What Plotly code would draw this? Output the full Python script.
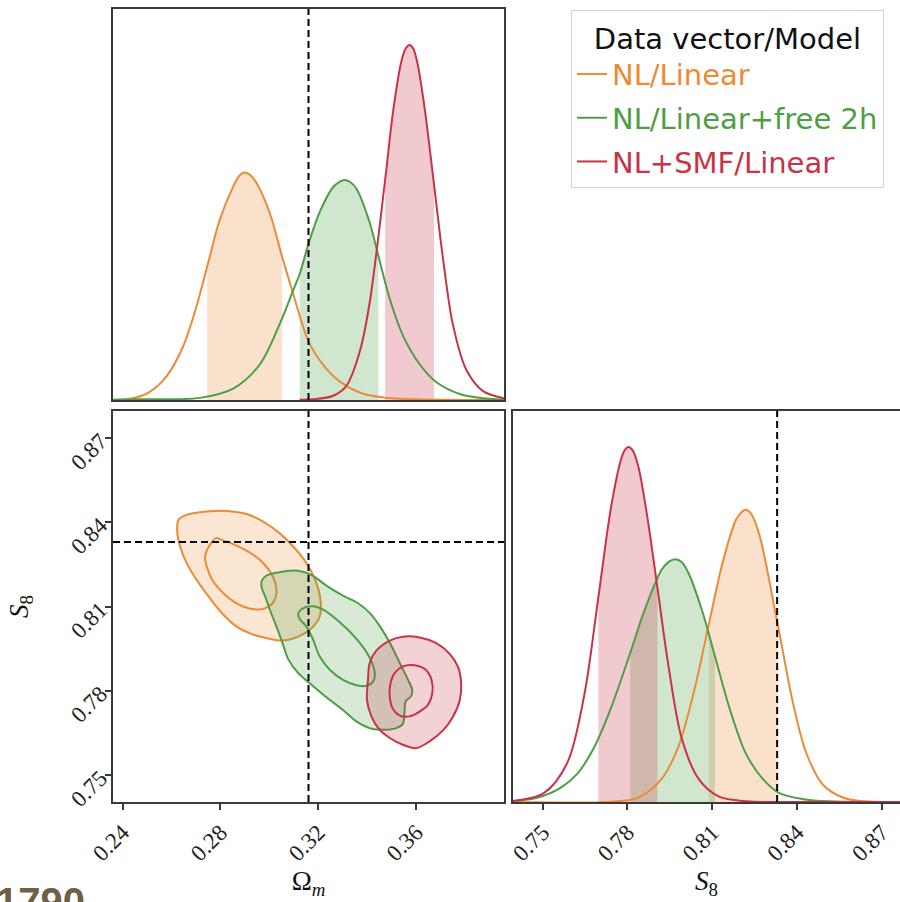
import plotly.graph_objects as go

W, H = 900, 902

# ---------------- data ----------------
SERIES = ["NL/Linear", "NL/Linear+free 2h", "NL+SMF/Linear"]
COLORS = ["#EC8B36", "#4E9E45", "#C83345"]
RGB = [(236, 139, 54), (78, 158, 69), (200, 51, 69)]

OM_TRUE = 0.316
S8_TRUE = 0.833

OM_TICKS = [0.24, 0.28, 0.32, 0.36]
OM_TICKTEXT = ["0.24", "0.28", "0.32", "0.36"]
S8_TICKS = [0.75, 0.78, 0.81, 0.84, 0.87]
S8_TICKTEXT = ["0.75", "0.78", "0.81", "0.84", "0.87"]

# 1D marginal of Omega_m (relative density)
om_orange_x = [0.2361, 0.2443, 0.2511, 0.2579, 0.2647, 0.2702, 0.2746, 0.2797, 0.2852, 0.2875, 0.2896,
               0.2920, 0.2947, 0.3002, 0.3052, 0.3097, 0.3160, 0.3220, 0.3288, 0.3369, 0.3465, 0.3601,
               0.3959]
om_orange_p = [0.000, 0.005, 0.023, 0.066, 0.150, 0.263, 0.376, 0.507, 0.601, 0.630, 0.641,
               0.635, 0.612, 0.526, 0.404, 0.300, 0.165, 0.099, 0.052, 0.021, 0.007, 0.002,
               0.000]
om_green_x = [0.2361, 0.2471, 0.2716, 0.2852, 0.2961, 0.3043, 0.3098, 0.3124, 0.3160, 0.3206, 0.3261,
              0.3285, 0.3307, 0.3330, 0.3356, 0.3410, 0.3446, 0.3492, 0.3547, 0.3615, 0.3683, 0.3778,
              0.3873, 0.3959]
om_green_p = [0.001, 0.002, 0.006, 0.032, 0.100, 0.215, 0.310, 0.355, 0.440, 0.530, 0.600,
              0.614, 0.620, 0.614, 0.595, 0.500, 0.405, 0.285, 0.180, 0.100, 0.050, 0.017,
              0.005, 0.002]
om_red_x = [0.3124, 0.3193, 0.3261, 0.3315, 0.3369, 0.3410, 0.3473, 0.3505, 0.3539, 0.3557, 0.3573,
            0.3588, 0.3605, 0.3635, 0.3673, 0.3710, 0.3750, 0.3805, 0.3873, 0.3959]
om_red_p = [0.001, 0.003, 0.012, 0.040, 0.135, 0.274, 0.619, 0.809, 0.952, 0.990, 1.000,
            0.990, 0.950, 0.820, 0.607, 0.397, 0.213, 0.085, 0.025, 0.005]
om_intervals = [(0.2746, 0.3052), (0.3124, 0.3446), (0.3473, 0.3673)]

# 1D marginal of S8 (relative density)
s8_orange_x = [0.7395, 0.7742, 0.7838, 0.7921, 0.7981, 0.8040, 0.8088, 0.8136, 0.8183, 0.8202, 0.8219,
               0.8238, 0.8267, 0.8332, 0.8386, 0.8433, 0.8493, 0.8565, 0.8636, 0.8780]
s8_orange_p = [0.000, 0.001, 0.012, 0.065, 0.157, 0.326, 0.500, 0.671, 0.793, 0.815, 0.823,
               0.812, 0.753, 0.500, 0.279, 0.138, 0.048, 0.012, 0.002, 0.000]
s8_green_x = [0.7395, 0.7480, 0.7563, 0.7623, 0.7683, 0.7742, 0.7810, 0.7861, 0.7921, 0.7947, 0.7969,
              0.7992, 0.8016, 0.8064, 0.8110, 0.8160, 0.8219, 0.8279, 0.8338, 0.8422, 0.8517, 0.8780]
s8_green_p = [0.003, 0.012, 0.040, 0.080, 0.155, 0.265, 0.420, 0.541, 0.654, 0.677, 0.684,
              0.676, 0.645, 0.540, 0.410, 0.268, 0.137, 0.065, 0.025, 0.008, 0.002, 0.000]
s8_red_x = [0.7395, 0.7504, 0.7587, 0.7647, 0.7697, 0.7742, 0.7778, 0.7791, 0.7804, 0.7818, 0.7838,
            0.7873, 0.7906, 0.7945, 0.7992, 0.8052, 0.8124, 0.8223, 0.8342, 0.8780]
s8_red_p = [0.003, 0.025, 0.110, 0.300, 0.576, 0.830, 0.967, 0.992, 1.000, 0.991, 0.947,
            0.790, 0.605, 0.385, 0.180, 0.065, 0.015, 0.002, 0.000, 0.000]
s8_intervals = [(0.8088, 0.8332), (0.7810, 0.8110), (0.7697, 0.7906)]

# 2D contours (Omega_m, S8): outer (95%) and inner (68%) boundaries
orange_outer_om = [0.2628, 0.2662, 0.2744, 0.2825, 0.2907, 0.2975, 0.3043, 0.3104, 0.3154, 0.3190, 0.3209,
                   0.3206, 0.3172, 0.3118, 0.3050, 0.2982, 0.2920, 0.2866, 0.2812, 0.2757, 0.2703, 0.2662,
                   0.2635, 0.2624]
orange_outer_s8 = [0.8409, 0.8427, 0.8439, 0.8441, 0.8430, 0.8403, 0.8361, 0.8308, 0.8252, 0.8189, 0.8124,
                   0.8065, 0.8023, 0.7993, 0.7979, 0.7989, 0.8005, 0.8029, 0.8071, 0.8130, 0.8195, 0.8255,
                   0.8314, 0.8361]
orange_inner_om = [0.2744, 0.2737, 0.2757, 0.2782, 0.2805, 0.2852, 0.2920, 0.2978, 0.3018, 0.3029, 0.3013,
                   0.2968, 0.2914, 0.2859, 0.2812, 0.2768]
orange_inner_s8 = [0.8243, 0.8278, 0.8320, 0.8344, 0.8338, 0.8323, 0.8293, 0.8252, 0.8201, 0.8150, 0.8112,
                   0.8091, 0.8094, 0.8115, 0.8148, 0.8193]

green_outer_om = [0.2968, 0.2988, 0.3056, 0.3118, 0.3172, 0.3233, 0.3301, 0.3363, 0.3413, 0.3454, 0.3495,
                  0.3533, 0.3567, 0.3584, 0.3580, 0.3557, 0.3552, 0.3546, 0.3519, 0.3465, 0.3410, 0.3356,
                  0.3301, 0.3233, 0.3165, 0.3118, 0.3077, 0.3054, 0.3029, 0.3002, 0.2983, 0.2969]
green_outer_s8 = [0.8189, 0.8211, 0.8225, 0.8228, 0.8213, 0.8175, 0.8139, 0.8112, 0.8075, 0.8027, 0.7967,
                  0.7899, 0.7839, 0.7804, 0.7782, 0.7762, 0.7720, 0.7683, 0.7667, 0.7661, 0.7667, 0.7691,
                  0.7732, 0.7777, 0.7827, 0.7863, 0.7913, 0.7970, 0.8029, 0.8089, 0.8136, 0.8166]
green_inner_om = [0.3118, 0.3135, 0.3179, 0.3220, 0.3288, 0.3356, 0.3407, 0.3431, 0.3424, 0.3397, 0.3356,
                  0.3301, 0.3247, 0.3206, 0.3179, 0.3152, 0.3124]
green_inner_s8 = [0.8075, 0.8093, 0.8101, 0.8089, 0.8044, 0.7985, 0.7923, 0.7863, 0.7833, 0.7818, 0.7820,
                  0.7839, 0.7875, 0.7922, 0.7982, 0.8029, 0.8056]

red_outer_om = [0.3403, 0.3410, 0.3437, 0.3492, 0.3546, 0.3614, 0.3682, 0.3737, 0.3771, 0.3784, 0.3778,
                0.3750, 0.3710, 0.3655, 0.3601, 0.3546, 0.3492, 0.3448, 0.3417, 0.3399]
red_outer_s8 = [0.7839, 0.7899, 0.7943, 0.7979, 0.7993, 0.7990, 0.7970, 0.7932, 0.7885, 0.7826, 0.7766,
                0.7707, 0.7659, 0.7620, 0.7596, 0.7608, 0.7632, 0.7664, 0.7709, 0.7768]
red_inner_om = [0.3492, 0.3495, 0.3512, 0.3546, 0.3594, 0.3639, 0.3663, 0.3666, 0.3648, 0.3614, 0.3573,
                0.3533, 0.3505]
red_inner_s8 = [0.7780, 0.7826, 0.7863, 0.7887, 0.7891, 0.7875, 0.7839, 0.7791, 0.7750, 0.7726, 0.7709,
                0.7712, 0.7735]

# axis ranges
OM_RANGE = [0.2361, 0.3959]
S8_RANGE_Y = [0.7404, 0.8797]
S8_RANGE_X = [0.7395, 0.8779]
PDF_RANGE = [0, 1.1014]

# ---------------- layout helpers ----------------
def xdom(a, b):
    return [a / W, min(b / W, 1.0)]

def ydom(top, bottom):
    return [1 - bottom / H, 1 - top / H]

def rgba(rgb, a):
    return "rgba(%d,%d,%d,%.3f)" % (rgb[0], rgb[1], rgb[2], a)

om_curves = [(om_orange_x, om_orange_p), (om_green_x, om_green_p), (om_red_x, om_red_p)]
s8_curves = [(s8_orange_x, s8_orange_p), (s8_green_x, s8_green_p), (s8_red_x, s8_red_p)]
contours = [
    (orange_outer_om, orange_outer_s8, orange_inner_om, orange_inner_s8),
    (green_outer_om, green_outer_s8, green_inner_om, green_inner_s8),
    (red_outer_om, red_outer_s8, red_inner_om, red_inner_s8),
]

fig = go.Figure()
SM = 0.9

def add_1d(curves, intervals, xa, ya, legend):
    for i, ((xs, ps), (lo, hi)) in enumerate(zip(curves, intervals)):
        sx = [x for x in xs if lo - 1e-9 <= x <= hi + 1e-9]
        sp = [p for x, p in zip(xs, ps) if lo - 1e-9 <= x <= hi + 1e-9]
        fig.add_trace(go.Scatter(x=sx, y=sp, mode="lines", xaxis=xa, yaxis=ya,
                                 line=dict(width=0, shape="spline", smoothing=SM),
                                 fill="tozeroy", fillcolor=rgba(RGB[i], 0.26),
                                 showlegend=False, hoverinfo="skip"))
    for i, (xs, ps) in enumerate(curves):
        fig.add_trace(go.Scatter(
            x=xs, y=ps, mode="lines", xaxis=xa, yaxis=ya,
            line=dict(color=COLORS[i], width=2, shape="spline", smoothing=SM),
            name='<span style="color:%s">%s</span>' % (COLORS[i], SERIES[i]),
            showlegend=legend, legendrank=i + 1, legendgroup="g%d" % i))

add_1d(om_curves, om_intervals, "x", "y", True)
add_1d(s8_curves, s8_intervals, "x3", "y3", False)

for i, (oo, os_, io, is_) in enumerate(contours):
    fig.add_trace(go.Scatter(x=oo + [oo[0]], y=os_ + [os_[0]], mode="lines", xaxis="x2", yaxis="y2",
                             fill="toself", fillcolor=rgba(RGB[i], 0.22),
                             line=dict(color=COLORS[i], width=2, shape="spline", smoothing=SM),
                             showlegend=False, hoverinfo="skip"))
    fig.add_trace(go.Scatter(x=io + [io[0]], y=is_ + [is_[0]], mode="lines", xaxis="x2", yaxis="y2",
                             line=dict(color=COLORS[i], width=2, shape="spline", smoothing=SM),
                             showlegend=False, hoverinfo="skip"))

AX = "#3a3a3a"
base = dict(showline=True, linecolor=AX, linewidth=1.6, mirror=True, showgrid=False,
            zeroline=False, ticks="outside", ticklen=6, tickwidth=1.5, tickcolor=AX,
            tickfont=dict(family="Liberation Serif", size=23, color="#222222"),
            automargin=False)
nolab = dict(showticklabels=False, ticks="")

TL = dict(x=(113, 504), y=(9, 400))
BL = dict(x=(113, 504), y=(411, 802))
BR = dict(x=(513, 904), y=(411, 802))

title_font = dict(family="Liberation Serif", size=27, color="#111111")
LEG_FONT = dict(family="DejaVu Sans", size=29, color="#111111")

fig.update_layout(
    width=W, height=H, margin=dict(l=0, r=0, t=0, b=0),
    paper_bgcolor="white", plot_bgcolor="white",
    xaxis=dict(base, **nolab, domain=xdom(*TL["x"]), range=OM_RANGE, anchor="y"),
    yaxis=dict(base, **nolab, domain=ydom(*TL["y"]), range=PDF_RANGE, anchor="x"),
    xaxis2=dict(base, domain=xdom(*BL["x"]), range=OM_RANGE, anchor="y2",
                tickvals=OM_TICKS, ticktext=OM_TICKTEXT, tickangle=-45,
                title=dict(text="Ω<sub><i>m</i></sub>", font=title_font, standoff=6)),
    yaxis2=dict(base, domain=ydom(*BL["y"]), range=S8_RANGE_Y, anchor="x2",
                tickvals=S8_TICKS, ticktext=S8_TICKTEXT, tickangle=-45,
                title=dict(text="<i>S</i><sub>8</sub>", font=title_font, standoff=30)),
    xaxis3=dict(base, domain=xdom(*BR["x"]),
                range=[S8_RANGE_X[0], S8_RANGE_X[0] + (S8_RANGE_X[1] - S8_RANGE_X[0]) * (W - 513) / (904 - 513)],
                anchor="y3", tickvals=S8_TICKS, ticktext=S8_TICKTEXT, tickangle=-45,
                title=dict(text="<i>S</i><sub>8</sub>", font=title_font, standoff=6)),
    yaxis3=dict(base, **nolab, domain=ydom(*BR["y"]), range=PDF_RANGE, anchor="x3", mirror=False),
    legend=dict(x=571 / W, y=1 - 10 / H, xanchor="left", yanchor="top",
                bgcolor="white", bordercolor="#d4d4d4", borderwidth=1,
                font=LEG_FONT,
                title=dict(text="Data vector/Model", side="top center", font=LEG_FONT),
                itemwidth=30, traceorder="grouped", tracegroupgap=3),
    showlegend=True,
)

dash = dict(color="black", width=2, dash="7px,4px")
fig.add_shape(type="line", xref="x", yref="y domain", x0=OM_TRUE, x1=OM_TRUE, y0=0, y1=1, line=dash)
fig.add_shape(type="line", xref="x2", yref="y2 domain", x0=OM_TRUE, x1=OM_TRUE, y0=0, y1=1, line=dash)
fig.add_shape(type="line", xref="x2 domain", yref="y2", x0=0, x1=1, y0=S8_TRUE, y1=S8_TRUE, line=dash)
fig.add_shape(type="line", xref="x3", yref="y3 domain", x0=S8_TRUE, x1=S8_TRUE, y0=0, y1=1, line=dash)

fig.add_annotation(text="<b>1790</b>", xref="paper", yref="paper", x=-6 / W, y=1 - 878 / H,
                   xanchor="left", yanchor="top", showarrow=False,
                   font=dict(family="Liberation Sans", size=40, color="#6d6047"))

fig.write_html("out.html", config={"displayModeBar": False},
               post_script="document.body.style.margin='0px';")
